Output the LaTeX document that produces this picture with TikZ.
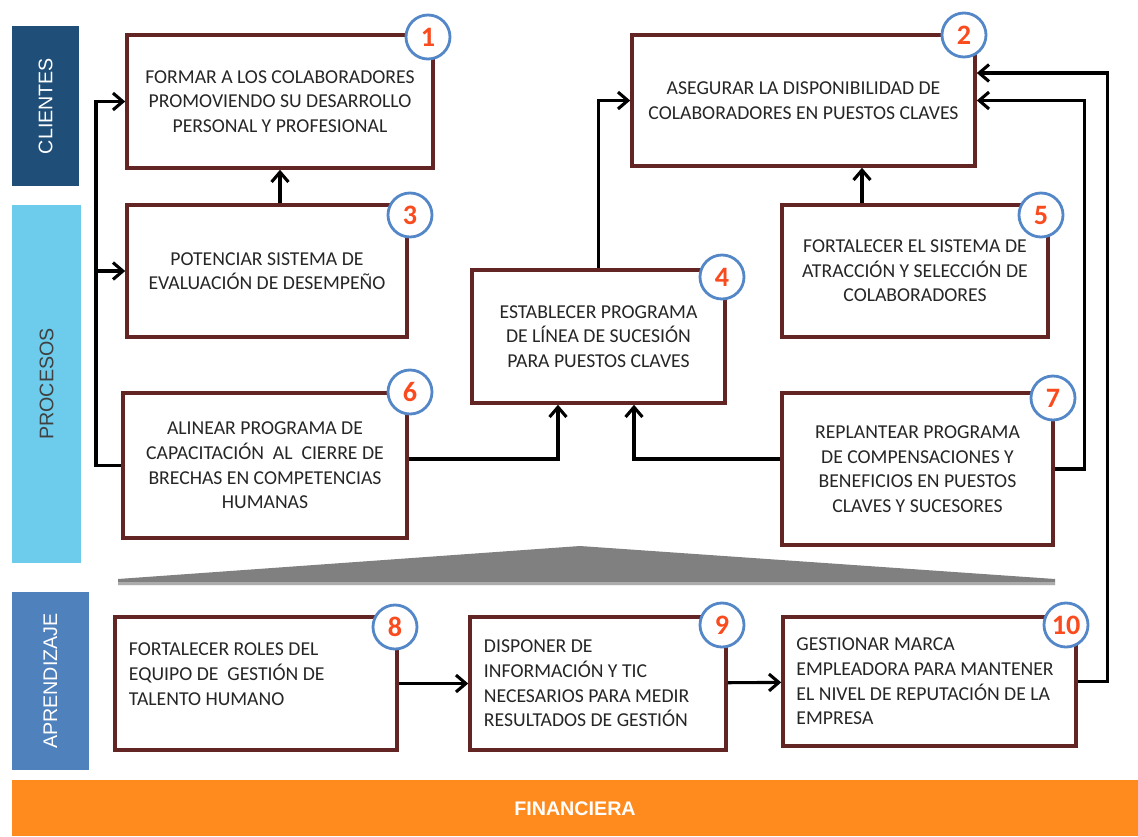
\documentclass[tikz,border=0pt]{standalone}
\usepackage{fontspec}
\setmainfont{Carlito}
\newfontfamily\barfont{Liberation Sans}
\usetikzlibrary{arrows.meta}
\definecolor{boxred}{RGB}{99,37,35}
\definecolor{ringblue}{RGB}{84,135,200}
\definecolor{numred}{RGB}{250,75,30}
\definecolor{darkblue}{RGB}{31,78,121}
\definecolor{lightblue}{RGB}{109,204,236}
\definecolor{midblue}{RGB}{79,129,189}
\definecolor{orangebar}{RGB}{255,138,30}
\tikzset{
  obj/.style={draw=boxred,line width=2.5pt,fill=white,align=center,inner sep=0pt,
    font=\fontsize{14}{17.5}\selectfont,text=black!85},
  num/.style={circle,draw=ringblue,line width=2pt,fill=white,minimum size=1.1cm,inner sep=0pt,
    font=\bfseries\fontsize{20}{20}\selectfont,text=numred},
  link/.style={line width=2.2pt,-{Straight Barb[length=7pt,width=12pt]}},
  bar/.style={rotate=90,font=\barfont\fontsize{14}{16}\selectfont},
}
\begin{document}
\begin{tikzpicture}[x=0.025cm,y=-0.025cm]
\useasboundingbox (0,0) rectangle (1138,836);
\fill[darkblue] (12,26) rectangle (79,186);
\fill[lightblue] (12,205) rectangle (81,563);
\fill[midblue] (12,592) rectangle (89,770);
\fill[orangebar] (12,780) rectangle (1138,836);
\node[bar,text=white] (cli) at (45.5,106) {CLIENTES};
\node[bar,text=black!75] (pro) at (46.5,384) {PROCESOS};
\node[bar,text=white] (apr) at (50.5,681) {APRENDIZAJE};
\node[text=white,font=\barfont\bfseries\fontsize{14}{16}\selectfont] (fin) at (575,809) {FINANCIERA};
\fill[gray] (118,585) -- (118,579) -- (580,546) -- (1055,579) -- (1055,585) -- cycle;
\fill[gray!65] (118,582) rectangle (1055,585);

\node[obj,minimum width=7.65cm,minimum height=3.325cm] (b1) at (280,101.5)
  {FORMAR A LOS COLABORADORES\\PROMOVIENDO SU DESARROLLO\\PERSONAL Y PROFESIONAL};
\node[obj,minimum width=8.575cm,minimum height=3.275cm] (b2) at (803.5,100.5)
  {ASEGURAR LA DISPONIBILIDAD DE\\COLABORADORES EN PUESTOS CLAVES};
\node[obj,minimum width=7cm,minimum height=3.3cm] (b3) at (267,271)
  {POTENCIAR SISTEMA DE\\EVALUACIÓN DE DESEMPEÑO};
\node[obj,minimum width=6.325cm,minimum height=3.325cm] (b4) at (598.5,336.5)
  {ESTABLECER PROGRAMA\\DE LÍNEA DE SUCESIÓN\\PARA PUESTOS CLAVES};
\node[obj,minimum width=6.65cm,minimum height=3.3cm] (b5) at (915,271)
  {FORTALECER EL SISTEMA DE\\ATRACCIÓN Y SELECCIÓN DE\\COLABORADORES};
\node[obj,minimum width=7.1cm,minimum height=3.625cm] (b6) at (265,465.5)
  {ALINEAR PROGRAMA DE\\CAPACITACIÓN \ AL \ CIERRE DE\\BRECHAS EN COMPETENCIAS\\HUMANAS};
\node[obj,minimum width=6.775cm,minimum height=3.8cm] (b7) at (917.5,469)
  {REPLANTEAR PROGRAMA\\DE COMPENSACIONES Y\\BENEFICIOS EN PUESTOS\\CLAVES Y SUCESORES};
\node[obj,align=flush left,text width=6.35cm,minimum width=7.05cm,minimum height=3.325cm] (b8) at (256,683.5)
  {FORTALECER ROLES DEL\\EQUIPO DE \ GESTIÓN DE\\TALENTO HUMANO\\[-4pt]\mbox{}};
\node[obj,align=flush left,text width=5.7cm,minimum width=6.4cm,minimum height=3.325cm] (b9) at (598,683.5)
  {DISPONER DE\\INFORMACIÓN Y TIC\\NECESARIOS PARA MEDIR\\RESULTADOS DE GESTIÓN};
\node[obj,align=flush left,text width=6.65cm,minimum width=7.325cm,minimum height=3.225cm] (b10) at (929.5,681.5)
  {GESTIONAR MARCA\\EMPLEADORA PARA MANTENER\\EL NIVEL DE REPUTACIÓN DE LA\\EMPRESA};

\coordinate (lt) at (96,465.5);
\draw[link] (b6.west) -- (lt) |- (b1.west);
\draw[link] (lt) |- (b3.west);
\draw[link] (b3.north -| b1.south) -- (b1.south);
\draw[link] (b4.north) |- (b2.west);
\draw[link] ([shift={(-53,0)}]b5.north) coordinate (p5) -- (p5 |- b2.south);
\draw[link] ([shift={(0,-6.5)}]b6.east) -| ([shift={(-40.5,0)}]b4.south);
\draw[link] ([shift={(0,-10)}]b7.west) -| ([shift={(35.5,0)}]b4.south);
\draw[link] (b7.east) -- ++(30,0) |- (b2.east);
\draw[link] (b10.east) -- ++(30,0) |- ([shift={(0,-27.5)}]b2.east);
\draw[link] (b8) -- (b9);
\draw[link] (b9) -- (b10);

\node[num] (c1) at (428,37) {1};
\node[num] (c2) at (964,35) {2};
\node[num] (c3) at (410,215) {3};
\node[num] (c4) at (722,277) {4};
\node[num] (c5) at (1041,215) {5};
\node[num] (c6) at (410,392) {6};
\node[num] (c7) at (1053,398) {7};
\node[num] (c8) at (395,627) {8};
\node[num] (c9) at (722,625) {9};
\node[num] (c10) at (1066,625) {10};
\end{tikzpicture}
\end{document}
